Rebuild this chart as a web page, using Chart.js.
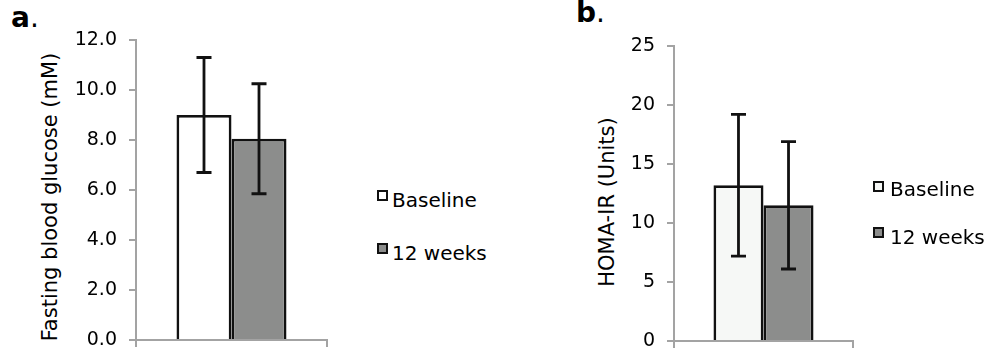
<!DOCTYPE html>
<html>
<head>
<meta charset="utf-8">
<script src="https://cdn.jsdelivr.net/npm/chart.js@4.4.1/dist/chart.umd.min.js"></script>
<style>
  html, body { margin: 0; padding: 0; background: #fff; }
  body { width: 995px; height: 358px; position: relative; overflow: hidden; font-family: "DejaVu Sans", sans-serif; color: #000; }
  .wrap { position: absolute; top: 0; height: 358px; }
  .panel { position: absolute; font-size: 28px; line-height: 28px; white-space: nowrap; }
  .panel b { font-weight: bold; }
  .ytitle { position: absolute; font-size: 21px; line-height: 21px; white-space: nowrap; transform: translate(-50%, -50%) rotate(-90deg); }
  .leg { position: absolute; font-size: 20px; line-height: 20px; white-space: nowrap; }
  .sq { position: absolute; width: 7px; height: 7px; border: 2px solid #111; }
</style>
</head>
<body>
<div class="panel" style="left:11px; top:4px;"><b>a</b>.</div>
<div class="panel" style="left:576px; top:-1px;"><b>b</b>.</div>

<div class="ytitle" style="left:50px; top:197px;">Fasting blood glucose (mM)</div>
<div class="ytitle" style="left:607px; top:202px;">HOMA-IR (Units)</div>

<div class="wrap" style="left:0; width:345px;"><canvas id="chartA" width="345" height="358"></canvas></div>
<div class="wrap" style="left:540px; width:455px;"><canvas id="chartB" width="455" height="358"></canvas></div>

<div id="legA"></div>
<div id="legB"></div>

<script>
// ---- data ----
const categories = [''];
const seriesNames = ['Baseline', '12 weeks'];
const glucoseMeans = [9.0, 8.05];
const glucoseErrors = [2.3, 2.2];
const homaMeans = [13.2, 11.5];
const homaErrors = [6.0, 5.4];
const glucoseTicks = [0, 2, 4, 6, 8, 10, 12];
const glucoseTickLabels = ['0.0', '2.0', '4.0', '6.0', '8.0', '10.0', '12.0'];
const homaTicks = [0, 5, 10, 15, 20, 25];
const homaTickLabels = ['0', '5', '10', '15', '20', '25'];

const fillsA = ['#ffffff', '#8c8d8c'];
const fillsB = ['#f6f8f6', '#8c8d8c'];
const axisGray = '#a3a3a3';

const errorBarPlugin = {
  id: 'errorBars',
  afterDatasetsDraw(chart) {
    const ctx = chart.ctx;
    const yScale = chart.scales.y;
    ctx.save();
    ctx.strokeStyle = '#111';
    ctx.lineWidth = 2.8;
    chart.data.datasets.forEach((ds, i) => {
      const meta = chart.getDatasetMeta(i);
      meta.data.forEach((el, j) => {
        const v = ds.data[j], e = ds.errors[j];
        const x = el.x;
        const yT = yScale.getPixelForValue(v + e);
        const yB = yScale.getPixelForValue(v - e);
        ctx.beginPath();
        ctx.moveTo(x, yT); ctx.lineTo(x, yB);
        ctx.moveTo(x - 7.5, yT); ctx.lineTo(x + 7.5, yT);
        ctx.moveTo(x - 7.5, yB); ctx.lineTo(x + 7.5, yB);
        ctx.stroke();
      });
    });
    ctx.restore();
  }
};

function makeChart(id, means, errors, fills, ticks, tickLabels, yMax, cfg) {
  const datasets = seriesNames.map((name, i) => ({
    label: name,
    data: [means[i]],
    errors: [errors[i]],
    backgroundColor: fills[i],
    borderColor: '#111',
    borderWidth: 2.8,
    borderSkipped: 'start',
    categoryPercentage: cfg.catPct,
    barPercentage: 1.0
  }));
  return new Chart(document.getElementById(id), {
    type: 'bar',
    data: { labels: categories, datasets },
    options: {
      responsive: false,
      animation: false,
      events: [],
      layout: { padding: { top: cfg.top, right: cfg.right, bottom: 0, left: 0 } },
      plugins: { legend: { display: false }, tooltip: { enabled: false } },
      scales: {
        x: {
          offset: true,
          grid: { display: true, drawOnChartArea: false, drawTicks: true, tickLength: 7, color: axisGray, lineWidth: 2, offset: true },
          border: { display: true, color: axisGray, width: 2 },
          ticks: { display: false },
          afterFit: s => { s.height = cfg.xH; s.paddingLeft = 0; s.paddingRight = 0; }
        },
        y: {
          min: 0, max: yMax,
          afterBuildTicks: s => { s.ticks = ticks.map(v => ({ value: v })); },
          ticks: {
            callback: (v) => tickLabels[ticks.indexOf(v)],
            font: { family: 'DejaVu Sans', size: 19 },
            color: '#000',
            padding: 12
          },
          grid: { display: true, drawOnChartArea: false, drawTicks: true, tickLength: 7, color: axisGray, lineWidth: 2 },
          border: { display: true, color: axisGray, width: 2 },
          afterFit: s => { s.width = cfg.yW; s.paddingTop = 0; s.paddingBottom = 0; }
        }
      }
    },
    plugins: [errorBarPlugin]
  });
}

makeChart('chartA', glucoseMeans, glucoseErrors, fillsA, glucoseTicks, glucoseTickLabels, 12,
  { top: 40, right: 18, xH: 18, yW: 136, catPct: 0.576 });
makeChart('chartB', homaMeans, homaErrors, fillsB, homaTicks, homaTickLabels, 25,
  { top: 46, right: 142, xH: 17, yW: 134, catPct: 0.559 });

function legend(el, items) {
  const host = document.getElementById(el);
  items.forEach(it => {
    const sq = document.createElement('div');
    sq.className = 'sq';
    sq.style.left = it.sx + 'px'; sq.style.top = it.sy + 'px';
    sq.style.background = it.fill;
    host.appendChild(sq);
    const t = document.createElement('div');
    t.className = 'leg';
    t.style.left = it.tx + 'px'; t.style.top = it.ty + 'px';
    t.textContent = it.text;
    host.appendChild(t);
  });
}
legend('legA', [
  { text: seriesNames[0], fill: fillsA[0], sx: 377, sy: 190, tx: 392, ty: 190 },
  { text: seriesNames[1], fill: fillsA[1], sx: 377, sy: 243, tx: 392, ty: 243 }
]);
legend('legB', [
  { text: seriesNames[0], fill: fillsB[0], sx: 873, sy: 181, tx: 890, ty: 179 },
  { text: seriesNames[1], fill: fillsB[1], sx: 873, sy: 227, tx: 890, ty: 227 }
]);
</script>
</body>
</html>
